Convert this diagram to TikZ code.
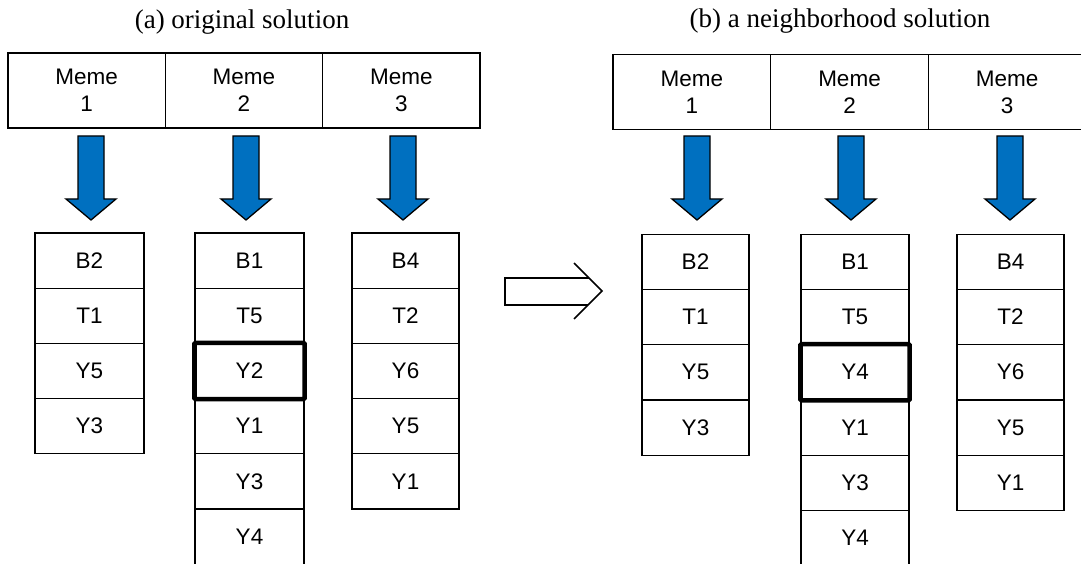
\documentclass[tikz,border=0pt]{standalone}
\usepackage{fontspec}
\setmainfont{Liberation Serif}
\setsansfont{Liberation Sans}
\definecolor{memeblue}{RGB}{0,112,192}
% downward block arrow centred at x = #1
\newcommand{\memearrow}[1]{%
  \draw[blockarrow] ({#1-13},136) -- ({#1+13},136) -- ({#1+13},199) -- ({#1+25},199)
    -- (#1,220) -- ({#1-25},199) -- ({#1-13},199) -- cycle;}
\begin{document}
\begin{tikzpicture}[x=1pt,y=-1pt,
  cell/.style={draw=black, line width=1.1pt, minimum height=55.2pt, inner sep=0pt,
    font=\sffamily\fontsize{22.5}{27}\selectfont},
  headcell/.style={draw=black, line width=1.3pt, minimum width=157.5pt, minimum height=75pt,
    inner sep=0pt, align=center, font=\sffamily\fontsize{22.5}{27}\selectfont},
  titletext/.style={anchor=base, inner sep=0pt, font=\fontsize{27}{32}\selectfont},
  blockarrow/.style={draw=black, line width=1.3pt, fill=memeblue, line join=miter},
  picked/.style={draw=black, line width=4.6pt, rounded corners=1pt},
  hollow/.style={draw=black, line width=1.6pt, line join=miter}
]
\path[use as bounding box] (0,0) rectangle (1081,564);
\clip (0,0) rectangle (1081,564);

% ---------- (a) original solution ----------
\node[titletext] (ta) at (242,29) {(a) original solution};
\node[headcell] (ha1) at (86.7,90.5) {Meme\\1};
\node[headcell] (ha2) at (244,90.5) {Meme\\2};
\node[headcell] (ha3) at (401.3,90.5) {Meme\\3};
\memearrow{91}
\memearrow{246}
\memearrow{403}

\foreach \t [count=\i] in {B2,T1,Y5,Y3}
  \node[cell, minimum width=109pt] (a1-\i) at (89.5,{205.4+55.2*\i}) {\t};
\foreach \t [count=\i] in {B1,T5,Y2,Y1,Y3,Y4}
  \node[cell, minimum width=109pt] (a2-\i) at (249.5,{205.4+55.2*\i}) {\t};
\foreach \t [count=\i] in {B4,T2,Y6,Y5,Y1}
  \node[cell, minimum width=107pt] (a3-\i) at (405.5,{205.4+55.2*\i}) {\t};
\draw[picked] (a2-3.north west) rectangle (a2-3.south east);

% ---------- transition arrow ----------
\draw[hollow] (589,278) -- (505,278) -- (505,305) -- (588,305);
\draw[hollow] (574,263) -- (602,291) -- (574,319);

% ---------- (b) a neighborhood solution ----------
\node[titletext] (tb) at (840,28) {(b) a neighborhood solution};
\node[headcell] (hb1) at (691.8,92) {Meme\\1};
\node[headcell] (hb2) at (849.5,92) {Meme\\2};
\node[headcell] (hb3) at (1007.2,92) {Meme\\3};
\memearrow{697}
\memearrow{851}
\memearrow{1010}

\foreach \t [count=\i] in {B2,T1,Y5,Y3}
  \node[cell, minimum width=107pt] (b1-\i) at (695.5,{206.35+55.3*\i}) {\t};
\foreach \t [count=\i] in {B1,T5,Y4,Y1,Y3,Y4}
  \node[cell, minimum width=108pt] (b2-\i) at (855,{206.35+55.3*\i}) {\t};
\foreach \t [count=\i] in {B4,T2,Y6,Y5,Y1}
  \node[cell, minimum width=107pt] (b3-\i) at (1010.5,{206.35+55.3*\i}) {\t};
\draw[picked] (b2-3.north west) rectangle (b2-3.south east);
\end{tikzpicture}
\end{document}
